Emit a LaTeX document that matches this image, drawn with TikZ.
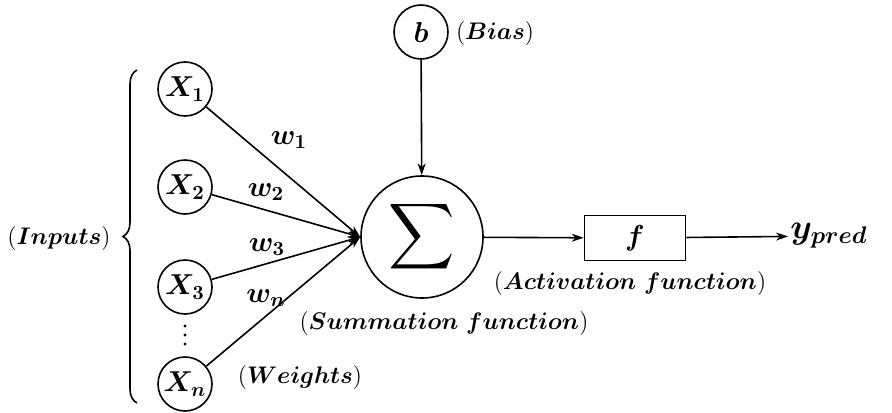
\documentclass[tikz,border=0pt]{standalone}
\usepackage{bm}
\usetikzlibrary{arrows.meta,decorations.pathreplacing}

\newcommand{\lbl}[1]{$(\bm{#1})$}

\begin{document}
\begin{tikzpicture}[x=0.5pt,y=-0.5pt, every node/.style={font=\large},
    neuron/.style={circle, draw, line width=0.8pt, minimum size=27pt, inner sep=0pt, font=\Large},
    wlbl/.style={font=\Large},
    conn/.style={line width=0.8pt, -{Stealth[length=6pt,width=4pt]}}]
    \useasboundingbox (0,0) rectangle (892,412);
    % inputs
    \node[neuron] (x1) at (185,89) {$\bm{X_1}$};
    \node[neuron] (x2) at (185,187) {$\bm{X_2}$};
    \node[neuron] (x3) at (185,287) {$\bm{X_3}$};
    \node[neuron] (xn) at (185,384) {$\bm{X_n}$};
    \foreach \y in {326,335,344}
      \fill (185,\y) circle (0.8pt);
    \draw[line width=0.8pt, decorate, decoration={brace, amplitude=7pt}] (137,403) -- (137,70);
    \node (inputs) at (59,238) {\lbl{Inputs}};
    % summation and bias
    \node[circle, draw, line width=0.8pt, minimum size=61pt, inner sep=0pt] (sum) at (422,237)
      {\scalebox{2.3}{$\displaystyle\sum$}};
    \node[neuron] (bias) at (421,32) {$\bm{b}$};
    \node[anchor=west] (biaslbl) at (449,33) {\lbl{Bias}};
    \node (sumlbl) at (444,323) {\lbl{Summation\ function}};
    % weights
    \node[wlbl] (w1) at (289,140) {$\bm{w_1}$};
    \node[wlbl] (w2) at (266,192) {$\bm{w_2}$};
    \node[wlbl] (w3) at (267,247) {$\bm{w_3}$};
    \node[wlbl] (wn) at (266,298) {$\bm{w_n}$};
    \node (weights) at (300,377) {\lbl{Weights}};
    % activation
    \node[draw, line width=0.8pt, minimum width=50.5pt, minimum height=22.5pt, font=\Large] (act) at (635,238) {$\bm{f}$};
    \node (actlbl) at (630,283) {\lbl{Activation\ function}};
    \node[anchor=west, font=\LARGE, inner sep=1pt] (ypred) at (788,236) {$\bm{y_{pred}}$};
    % connectors
    \foreach \n in {x1,x2,x3,xn}
      \draw[conn] (\n) -- (sum.west);
    \draw[conn] (bias) -- (sum);
    \draw[conn] (sum) -- (act);
    \draw[conn] (act) -- (ypred);
\end{tikzpicture}
\end{document}
